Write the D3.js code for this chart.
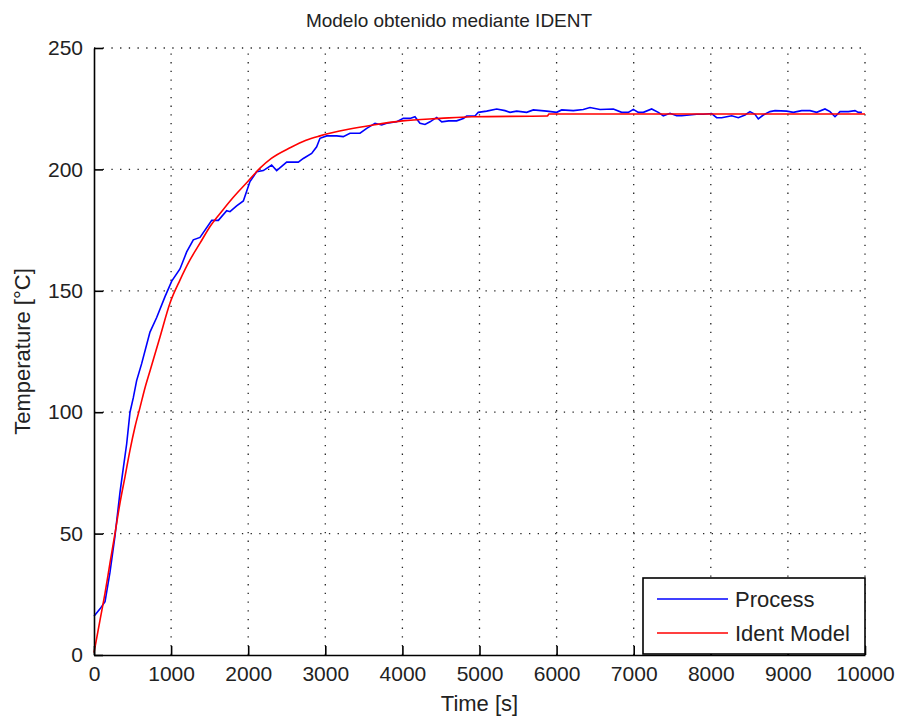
<!DOCTYPE html>
<html>
<head>
<meta charset="utf-8">
<script src="https://cdn.jsdelivr.net/npm/d3@7"></script>
<style>
  html, body { margin: 0; padding: 0; background: #fff; }
  svg { display: block; font-family: "Liberation Sans", Arial, sans-serif; }
</style>
</head>
<body>
<svg id="chart" width="898" height="717"></svg>
<script>
// Measured process temperature (time in s, temperature in °C)
const processTime = [0, 78, 143, 207, 272, 337, 380, 424, 467, 510, 553, 618, 726, 813, 921, 1008, 1115, 1202, 1288, 1375,
  1527, 1613, 1721, 1764, 1850, 1937, 1980, 2023, 2110, 2196, 2304, 2369, 2499, 2650, 2715, 2823, 2888, 2931, 3018, 3148,
  3233, 3320, 3450, 3537, 3645, 3731, 3796, 3926, 4012, 4099, 4163, 4228, 4293, 4358, 4445, 4510, 4600, 4704, 4790, 4834,
  4942, 4984, 5093, 5223, 5331, 5396, 5482, 5612, 5698, 5872, 6001, 6066, 6217, 6346, 6433, 6563, 6736, 6844, 6930, 6995,
  7060, 7125, 7233, 7319, 7384, 7471, 7557, 7622, 7720, 7817, 7903, 8011, 8076, 8141, 8206, 8271, 8357, 8444, 8508, 8573,
  8616, 8681, 8768, 8833, 8985, 9070, 9179, 9287, 9373, 9481, 9546, 9611, 9676, 9784, 9870, 9914, 9960];
const processTemp = [16, 19, 22, 34, 49, 67, 77, 87, 100, 106, 113, 120, 133, 139, 147.6, 154, 159, 166, 171, 172,
  179, 179, 183, 182.6, 185, 187, 191, 195, 199, 199.5, 201.8, 199.5, 203, 203, 204.5, 206.6, 209.3, 212.8, 213.8, 213.8,
  213.5, 214.9, 214.9, 216.9, 219, 218.3, 219, 219.6, 221, 221, 221.7, 219, 218.5, 219.6, 221.4, 219.6, 220, 220, 221, 222,
  222, 223.5, 224, 224.9, 224.2, 223.5, 224, 223.5, 224.5, 224, 223.5, 224.5, 224.2, 224.7, 225.5, 224.7, 224.9, 223.5, 223.5, 224.7,
  223.5, 223.5, 224.9, 223.5, 222.1, 223.1, 222.1, 222.1, 222.4, 222.7, 222.7, 223, 221.3, 221.3, 221.7, 222.1, 221.3, 222.4, 223.8, 222.7,
  220.8, 222.4, 223.8, 224.2, 224, 223.5, 224.2, 224.2, 223.5, 224.9, 223.8, 221.7, 223.8, 223.8, 224.2, 223.5, 223.5];

// Identified first-order model response
const modelTime = [0, 78, 143, 207, 272, 337, 402, 467, 532, 597, 661, 726, 856, 986, 1115, 1245, 1375, 1505, 1677, 1807,
  1980, 2153, 2300, 2550, 2750, 2931, 3300, 3620, 4000, 4488, 4900, 5880, 5900, 7000, 8500, 10000];
const modelTemp = [1, 14.4, 25.5, 37.8, 50, 62.6, 73.4, 84.4, 94, 102, 110, 117, 131, 145, 154.4, 162.7, 169.6, 176.5, 183.5, 188.5,
  194.5, 200.5, 204.5, 209, 212, 213.8, 216.5, 218.3, 220, 221, 221.7, 222, 222.8, 222.8, 222.8, 222.8];

const xTicks = [0, 1000, 2000, 3000, 4000, 5000, 6000, 7000, 8000, 9000, 10000];
const yTicks = [0, 50, 100, 150, 200, 250];
const seriesNames = ["Process", "Ident Model"];
const seriesColors = ["#0000ff", "#ff0000"];

const svg = d3.select("#chart");
const plot = { left: 94, right: 865, top: 48, bottom: 655 };

const x = d3.scaleLinear().domain([0, 10000]).range([plot.left, plot.right]);
const y = d3.scaleLinear().domain([0, 250]).range([plot.bottom, plot.top]);

// dotted grid
const grid = svg.append("g").attr("stroke", "#222").attr("stroke-width", 1.3)
  .attr("stroke-dasharray", "1.3,7.4");
grid.selectAll("line.v").data(xTicks.slice(1)).join("line")
  .attr("x1", d => x(d)).attr("x2", d => x(d))
  .attr("y1", plot.bottom).attr("y2", plot.top);
grid.selectAll("line.h").data(yTicks.slice(1)).join("line")
  .attr("y1", d => y(d)).attr("y2", d => y(d))
  .attr("x1", plot.left).attr("x2", plot.right);

// data lines
const procLine = d3.line().x((d, i) => x(processTime[i])).y(d => y(d));
const modelLine = d3.line().curve(d3.curveMonotoneX).x((d, i) => x(modelTime[i])).y(d => y(d));

svg.append("path").datum(processTemp).attr("d", procLine)
  .attr("fill", "none").attr("stroke", seriesColors[0]).attr("stroke-width", 1.6);
svg.append("path").datum(modelTemp).attr("d", modelLine)
  .attr("fill", "none").attr("stroke", seriesColors[1]).attr("stroke-width", 1.6);

// axes with inward ticks
const fontSize = 21;
const xAxis = d3.axisBottom(x).tickValues(xTicks).tickFormat(d3.format("d"))
  .tickSizeInner(-9).tickSizeOuter(0).tickPadding(11);
const yAxis = d3.axisLeft(y).tickValues(yTicks).tickFormat(d3.format("d"))
  .tickSizeInner(-9).tickSizeOuter(0).tickPadding(11);

const gx = svg.append("g").attr("transform", `translate(0,${plot.bottom})`).call(xAxis);
const gy = svg.append("g").attr("transform", `translate(${plot.left},0)`).call(yAxis);
[gx, gy].forEach(g => {
  g.select(".domain").attr("stroke", "#000").attr("stroke-width", 1.6);
  g.selectAll(".tick line").attr("stroke", "#000").attr("stroke-width", 1.6);
  g.selectAll(".tick text").attr("fill", "#222").attr("font-size", fontSize)
    .attr("font-family", "'Liberation Sans', Arial, sans-serif");
});

// title and axis labels
svg.append("text").attr("x", 449).attr("y", 27)
  .attr("text-anchor", "middle").attr("font-size", 19).attr("fill", "#222")
  .text("Modelo obtenido mediante IDENT");
svg.append("text").attr("x", (plot.left + plot.right) / 2).attr("y", 711)
  .attr("text-anchor", "middle").attr("font-size", 22).attr("fill", "#222")
  .text("Time [s]");
svg.append("text")
  .attr("transform", `translate(30,${(plot.top + plot.bottom) / 2}) rotate(-90)`)
  .attr("text-anchor", "middle").attr("font-size", 22).attr("fill", "#222")
  .text("Temperature [°C]");

// legend
const lg = svg.append("g");
lg.append("rect").attr("x", 643).attr("y", 578).attr("width", 222).attr("height", 76)
  .attr("fill", "#fff").attr("stroke", "#000").attr("stroke-width", 1.6);
seriesNames.forEach((name, i) => {
  const yy = 599 + i * 34;
  lg.append("line").attr("x1", 657).attr("x2", 728).attr("y1", yy).attr("y2", yy)
    .attr("stroke", seriesColors[i]).attr("stroke-width", 1.6);
  lg.append("text").attr("x", 735).attr("y", yy).attr("dy", "0.35em")
    .attr("font-size", 22).attr("fill", "#222").text(name);
});
</script>
</body>
</html>
